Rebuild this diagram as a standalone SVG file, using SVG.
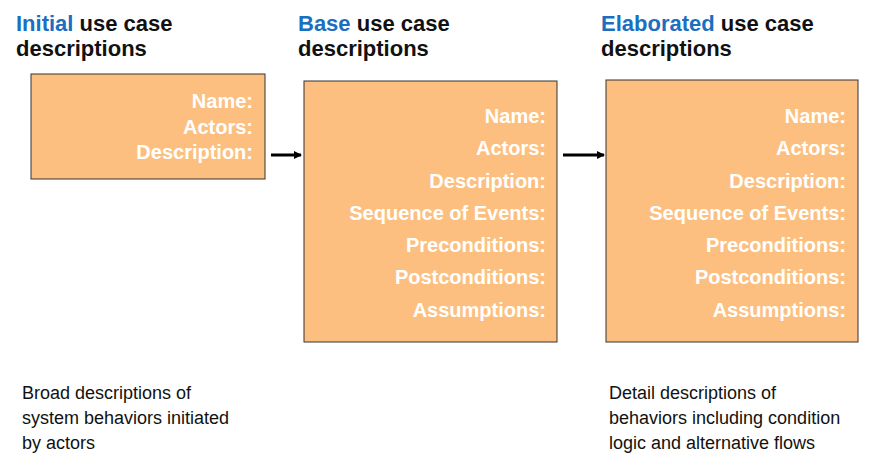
<svg xmlns="http://www.w3.org/2000/svg" width="886" height="469" viewBox="0 0 886 469">
<style>
.box{fill:#FDBF80;stroke:#333;stroke-width:1}
.lbl{font-family:"Liberation Sans",Arial,sans-serif;font-weight:bold;font-size:20px;fill:#fff;text-anchor:end}
.t{font-family:"Liberation Sans",Arial,sans-serif;font-weight:bold;font-size:22px;fill:#111}
.b{fill:#1A6FC0}
.n{font-family:"Liberation Sans",Arial,sans-serif;font-size:18px;fill:#111}
</style>
<defs><marker id="ah" markerWidth="8" markerHeight="8" refX="7" refY="4" orient="auto" markerUnits="userSpaceOnUse"><path d="M0,0L8,4L0,8z" fill="#000"/></marker></defs>
<rect width="886" height="469" fill="#fff"/>
<g id="titles">
<text class="t" x="16" y="31"><tspan class="b">Initial</tspan> use case</text>
<text class="t" x="16" y="56">descriptions</text>
<text class="t" x="298" y="31"><tspan class="b">Base</tspan> use case</text>
<text class="t" x="298" y="56">descriptions</text>
<text class="t" x="601" y="31"><tspan class="b">Elaborated</tspan> use case</text>
<text class="t" x="601" y="56">descriptions</text>
</g>
<g id="initial">
<rect class="box" x="31" y="74" width="234" height="105"/>
<text class="lbl" x="253" y="108">Name:</text>
<text class="lbl" x="253" y="134">Actors:</text>
<text class="lbl" x="253" y="159">Description:</text>
</g>
<g id="base">
<rect class="box" x="304" y="81" width="253" height="261"/>
<text class="lbl" x="546" y="123">Name:</text>
<text class="lbl" x="546" y="155">Actors:</text>
<text class="lbl" x="546" y="188">Description:</text>
<text class="lbl" x="546" y="220">Sequence of Events:</text>
<text class="lbl" x="546" y="252">Preconditions:</text>
<text class="lbl" x="546" y="284">Postconditions:</text>
<text class="lbl" x="546" y="317">Assumptions:</text>
</g>
<g id="elaborated">
<rect class="box" x="606" y="80" width="252" height="262"/>
<text class="lbl" x="846" y="123">Name:</text>
<text class="lbl" x="846" y="155">Actors:</text>
<text class="lbl" x="846" y="188">Description:</text>
<text class="lbl" x="846" y="220">Sequence of Events:</text>
<text class="lbl" x="846" y="252">Preconditions:</text>
<text class="lbl" x="846" y="284">Postconditions:</text>
<text class="lbl" x="846" y="317">Assumptions:</text>
</g>
<g id="connectors" stroke="#000" stroke-width="3">
<line x1="271" y1="155" x2="301" y2="155" marker-end="url(#ah)"/>
<line x1="563" y1="155" x2="604" y2="155" marker-end="url(#ah)"/>
</g>
<g id="notes">
<text class="n" x="22" y="399">Broad descriptions of</text>
<text class="n" x="22" y="424">system behaviors initiated</text>
<text class="n" x="22" y="449">by actors</text>
<text class="n" x="609" y="399">Detail descriptions of</text>
<text class="n" x="609" y="424">behaviors including condition</text>
<text class="n" x="609" y="449">logic and alternative flows</text>
</g>
</svg>
